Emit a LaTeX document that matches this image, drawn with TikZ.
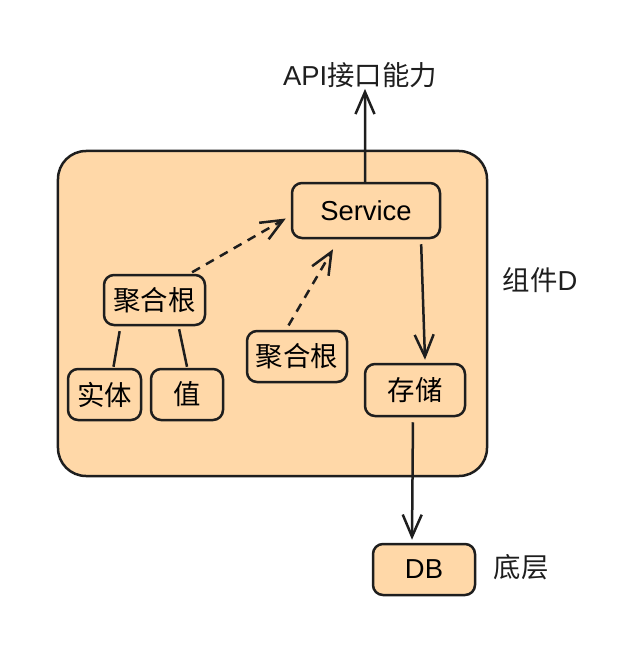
\documentclass[tikz,border=0pt]{standalone}
\usepackage{fontspec}
\setmainfont{Liberation Sans}
\newfontfamily\cjk{Noto Sans CJK SC}
\usepackage{tikz}
\usetikzlibrary{arrows.meta}

\definecolor{ink}{HTML}{1E1E1E}
\definecolor{peach}{HTML}{FFD8A8}

\tikzset{
  box/.style={draw=ink, fill=peach, line width=2.5bp, rounded corners=10bp,
    inner sep=0pt, font=\fontsize{27.5}{30}\selectfont},
  arr/.style={draw=ink, line width=2.5bp, -{Straight Barb[length=22bp, width=19bp]}},
  dasharr/.style={arr, dash pattern=on 9bp off 7bp},
  link/.style={draw=ink, line width=2.5bp},
  lbl/.style={inner sep=0pt, text=ink, font=\fontsize{27.5}{30}\selectfont}
}

\begin{document}
\begin{tikzpicture}[x=1bp, y=-1bp]
\useasboundingbox (0,0) rectangle (641,660);
% component frame
\node[box, rounded corners=28bp, minimum width=429bp, minimum height=325bp] (comp) at (272.5,313.5) {};
\node[box, minimum width=148bp, minimum height=55bp] (svc) at (366,210.5) {Service};
\node[box, minimum width=101bp, minimum height=50bp] (agga) at (154.5,300) {\cjk 聚合根};
\node[box, minimum width=73bp, minimum height=51bp] (ent) at (104.5,394.5) {\cjk 实体};
\node[box, minimum width=72bp, minimum height=51bp] (val) at (187,394.5) {\cjk 值};
\node[box, minimum width=100bp, minimum height=51bp] (aggb) at (297,356.5) {\cjk 聚合根};
\node[box, minimum width=100bp, minimum height=52bp] (store) at (415,390) {\cjk 存储};
\node[box, minimum width=102bp, minimum height=51bp] (db) at (424,569.5) {DB};
% labels
\node[lbl] (api) at (360,75) {API{\cjk 接口能力}};
\node[lbl] (compname) at (540,280) {{\cjk 组件}D};
\node[lbl] (base) at (521,567) {\cjk 底层};
% connectors
\draw[arr] ([xshift=-1bp]svc.north) -- ([xshift=5bp, yshift=-1bp]api.south);
\draw[arr, shorten <=5bp] ([xshift=55bp]svc.south) -- ([xshift=10bp, yshift=3bp]store.north);
\draw[arr, shorten <=5bp] ([xshift=-2bp]store.south) -- ([xshift=-12bp, yshift=3bp]db.north);
\draw[dasharr, shorten <=3bp] ([xshift=35bp]agga.north) -- ([xshift=-5bp, yshift=-8bp]svc.west);
\draw[dasharr, shorten <=5bp] ([xshift=-11bp]aggb.north) -- ([xshift=-33bp, yshift=-10bp]svc.south);
\draw[link, shorten <=5bp] ([xshift=-34bp]agga.south) -- ([xshift=9bp, yshift=1bp]ent.north);
\draw[link, shorten <=3bp] ([xshift=24bp]agga.south) -- ([xshift=0bp, yshift=1bp]val.north);
\end{tikzpicture}
\end{document}
